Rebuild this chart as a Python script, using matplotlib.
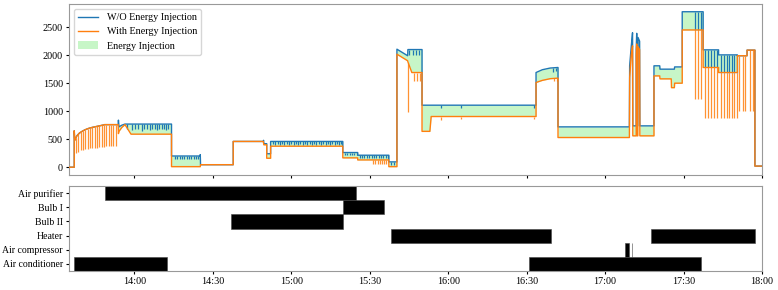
import numpy as np
import matplotlib
matplotlib.use("Agg")
import matplotlib.pyplot as plt

plt.rcParams['font.family'] = ['Liberation Serif', 'DejaVu Serif']
plt.rcParams['font.size'] = 7.3

# time in minutes after 13:00
t = [35, 37, 37, 37.2, 38, 39, 40, 41, 42, 43, 44, 45, 46, 47, 48, 48.6, 53.8,
     53.9, 54.1, 55.2, 56.4, 58.7, 74.2, 74.2, 85.0, 85.2, 85.3, 97.8, 97.8,
     109.3, 109.4, 109.5, 110.6, 110.6, 112.1, 112.1, 139.7, 139.7, 145.4, 145.4,
     157.3, 157.3, 160.4, 160.4, 164.5, 164.6, 166.1, 170.0, 170.0, 173.0, 173.5,
     213.6, 213.6, 216.0, 219.0, 222.0, 222.0, 249.3, 249.4, 250.0, 250.5, 250.6,
     251.9, 251.9, 252.1, 252.3, 252.5, 252.6, 253.2, 253.3, 258.7, 258.7, 260.9,
     261.0, 265.3, 265.4, 266.5, 266.6, 269.5, 269.5, 277.5, 277.5, 283.4, 283.4,
     290.6, 290.6, 294.3, 294.3, 297.3, 297.3, 300]
wo_injection = [0, 0, 650, 480, 560, 610, 640, 665, 685, 700, 712, 722, 732, 742, 752, 760, 760,
                840, 720, 750, 770, 770, 770, 200, 200, 225, 45, 45, 460,
                460, 480, 420, 420, 240, 240, 460, 460, 262, 262, 214,
                214, 95, 95, 2107, 1990, 2100, 2100, 2100, 1107, 1107, 1107,
                1107, 1690, 1740, 1770, 1780, 720, 720, 1810, 2150, 2400, 738,
                738, 2100, 2390, 738, 738, 2316, 2250, 738, 738, 1810, 1810,
                1750, 1750, 1750, 1750, 1790, 1790, 2775, 2775, 2095, 2095, 2005,
                2005, 1990, 1990, 2090, 2090, 20, 20]
with_injection = [0, 0, 650, 480, 560, 610, 640, 665, 685, 700, 712, 722, 732, 742, 752, 760, 760,
                  600, 640, 710, 760, 590, 590, 10, 10, 10, 45, 45, 460,
                  460, 430, 400, 400, 160, 160, 375, 375, 167, 167, 130,
                  130, 10, 10, 2018, 1900, 1880, 1690, 1690, 640, 640, 905,
                  905, 1512, 1550, 1580, 1590, 530, 530, 1600, 2000, 2166, 560,
                  560, 2000, 2200, 560, 560, 2150, 2100, 560, 560, 1630, 1630,
                  1577, 1577, 1420, 1420, 1500, 1500, 2450, 2450, 1780, 1780, 1690,
                  1690, 1990, 1990, 2090, 2090, 20, 20]

# short dips of the "W/O" series (time, lowest value)
wo_dip_t = [57.1, 58.9, 60.3, 61.5, 63.1, 63.8, 64.7, 66.0, 66.9, 67.7, 68.5, 69.5, 70.5, 71.4, 72.2, 73.0,
            75.5, 76.4, 77.3, 78.2, 79.1, 80.0, 80.9, 81.8, 82.7, 83.6, 84.5,
            113.0, 113.9, 114.8, 115.6, 116.5, 117.4, 118.2, 119.1, 120.0, 120.9, 121.7, 122.6,
            123.5, 124.4, 125.2, 126.1, 127.0, 127.9, 128.7, 129.6, 130.5, 131.3, 132.2, 133.1,
            134.0, 134.8, 135.7, 136.6, 137.5, 138.3, 139.2,
            140.5, 141.4, 142.3, 143.2, 144.1, 145.0,
            146.2, 147.1, 148.0, 148.9, 149.8, 150.7, 151.6, 152.5, 153.4, 154.3, 155.2, 156.1, 157.0,
            158.2, 159.2, 165.2, 166.5, 167.6, 168.8, 177.2, 184.9, 212.9, 220.0, 221.2,
            274.3, 275.6, 276.6, 278.2, 279.5, 280.5, 281.8, 282.8,
            284.4, 285.5, 286.5, 287.4, 288.4, 289.4, 290.4]
wo_dip_lo = [680, 660, 690, 680, 650, 690, 680, 670, 690, 680, 670, 690, 680, 690, 670, 680,
             140, 150, 140, 150, 140, 150, 140, 150, 140, 150, 140,
             410, 400, 410, 400, 410, 400, 410, 400, 410, 400, 410, 400,
             410, 400, 410, 400, 410, 400, 410, 400, 410, 400, 410, 400,
             410, 400, 410, 400, 410, 400, 410,
             220, 215, 220, 215, 220, 215,
             170, 165, 170, 165, 170, 165, 170, 165, 170, 165, 170, 165, 170,
             40, 40, 2010, 2000, 2010, 2000, 1050, 1060, 1060, 1700, 1710,
             2450, 2450, 2450, 1780, 1780, 1780, 1780, 1780,
             1690, 1690, 1690, 1690, 1690, 1690, 1690]

# short dips of the "With" series
with_dip_t = [37.6, 38.5, 39.4, 40.3, 41.2, 42.1, 43.0, 43.9, 44.8, 45.7, 46.6, 47.5, 48.4, 49.3,
              50.2, 51.1, 52.0, 52.9,
              151.3, 152.1, 153.0, 153.8, 154.7, 155.5, 156.4,
              164.7, 166.9, 168.2, 169.4, 177.2, 184.9, 212.9, 220.5, 221.5,
              274.3, 275.6, 276.6, 278.2, 279.5, 280.5, 281.8, 282.8,
              284.4, 285.5, 286.5, 287.4, 288.4, 289.4, 290.4,
              291.3, 292.6, 293.6, 295.3, 296.6]
with_dip_lo = [250, 280, 300, 310, 320, 330, 335, 340, 345, 350, 355, 360, 365, 370,
               370, 375, 375, 380,
               55, 55, 55, 55, 55, 55, 55,
               980, 1540, 1540, 1540, 850, 860, 860, 1530, 1530,
               1214, 1214, 1214, 887, 887, 887, 887, 887,
               870, 870, 870, 870, 870, 870, 870,
               1005, 1005, 1005, 1005, 1005]

appliances = ['Air conditioner', 'Air compressor', 'Heater', 'Bulb II', 'Bulb I', 'Air purifier']
on_row = [5, 4, 3, 2, 2, 1, 1, 0, 0]
on_start = [48.6, 139.6, 96.8, 158.1, 257.4, 247.7, 250.3, 37.0, 210.8]
on_end = [144.7, 155.3, 139.6, 219.4, 297.5, 249.0, 250.45, 72.3, 276.8]

tick_pos = [60, 90, 120, 150, 180, 210, 240, 270, 300]
tick_labels = ['14:00', '14:30', '15:00', '15:30', '16:00', '16:30', '17:00', '17:30', '18:00']

fig = plt.figure(figsize=(7.78, 2.90), dpi=100)
ax = fig.add_axes([0.0887, 0.3966, 0.8907, 0.5897])
ax2 = fig.add_axes([0.0887, 0.0655, 0.8907, 0.2931])

t_arr = np.array(t)
wo = np.array(wo_injection)
wi = np.array(with_injection)

ax.fill_between(t_arr, wi, wo, where=wo >= wi, color='lightgreen', alpha=0.5,
                linewidth=0, label='Energy Injection', zorder=1)
ax.plot(t_arr, wo, color='#1f77b4', lw=1.0, label='W/O Energy Injection', zorder=2)
ax.vlines(wo_dip_t, wo_dip_lo, np.interp(wo_dip_t, t_arr, wo), color='#1f77b4', lw=0.9, zorder=2)
ax.plot(t_arr, wi, color='#ff7f0e', lw=1.0, label='With Energy Injection', zorder=3)
ax.vlines(with_dip_t, with_dip_lo, np.interp(with_dip_t, t_arr, wi), color='#ff7f0e',
          lw=0.9, alpha=0.85, zorder=3)

h, l = ax.get_legend_handles_labels()
order = [l.index('W/O Energy Injection'), l.index('With Energy Injection'), l.index('Energy Injection')]
ax.legend([h[i] for i in order], [l[i] for i in order], loc='upper left', fontsize=7.3)

ax.set_xlim(35, 300)
ax.set_xticks(tick_pos)
ax.set_xticklabels([])
ax.set_yticks([0, 500, 1000, 1500, 2000, 2500])

for r, s, e in zip(on_row, on_start, on_end):
    ax2.barh(r, e - s, left=s, height=1.0, color='black', edgecolor='#444444', linewidth=0.4)
ax2.set_xlim(35, 300)
ax2.set_ylim(-0.5, 5.5)
ax2.set_yticks(range(len(appliances)))
ax2.set_yticklabels(appliances, fontsize=7.0)
ax2.set_xticks(tick_pos)
ax2.set_xticklabels(tick_labels)

for a in (ax, ax2):
    for sp in a.spines.values():
        sp.set_color('#999999')
    a.tick_params(length=2.5, width=0.8, pad=2)

fig.savefig('out.png', dpi=100)
